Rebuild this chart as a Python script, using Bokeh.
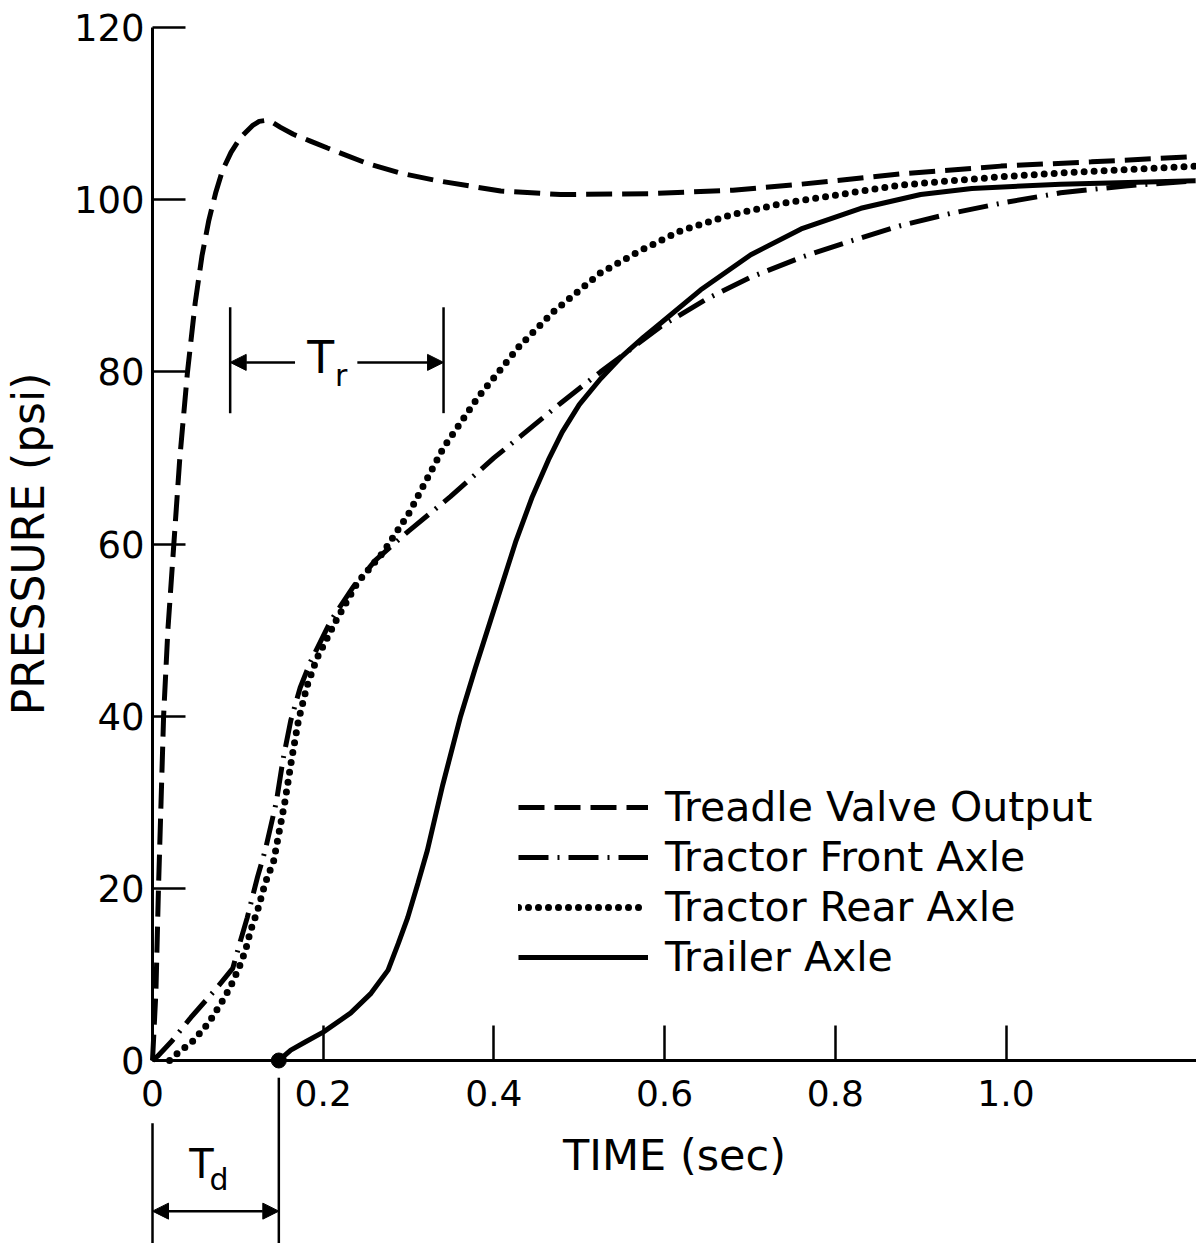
from bokeh.plotting import figure
from bokeh.models import (Range1d, LinearAxis, FixedTicker, Legend, LegendItem,
                          Arrow, NormalHead)
from bokeh.core.properties import value
from bokeh.embed import file_html
from bokeh.resources import INLINE

FONT = "DejaVu Sans"

# ---------------- data ----------------
treadle_t = [0, 0.004, 0.007, 0.010, 0.013, 0.018, 0.025, 0.032, 0.041, 0.050, 0.058,
             0.066, 0.074, 0.082, 0.092, 0.103, 0.117, 0.125, 0.132, 0.140, 0.150,
             0.165, 0.185, 0.205, 0.252, 0.290, 0.334, 0.408, 0.478, 0.584, 0.680,
             0.760, 0.877, 0.994, 1.100, 1.222]
treadle_p = [0, 8, 20, 30, 40, 50, 60, 70, 80, 88, 93.5,
             97.6, 100.8, 103.4, 105.5, 107.2, 108.6, 109.1, 109.2, 109.0, 108.4,
             107.6, 106.8, 106.0, 104.2, 103.1, 102.2, 101.0, 100.6, 100.7, 101.1,
             101.8, 103.0, 103.9, 104.4, 105.0]

front_t = [0, 0.006, 0.023, 0.045, 0.076, 0.094, 0.103, 0.111, 0.123, 0.132, 0.145,
           0.153, 0.162, 0.173, 0.185, 0.209, 0.235, 0.261, 0.30, 0.349, 0.40, 0.431,
           0.48, 0.525, 0.596, 0.65, 0.701, 0.76, 0.818, 0.877, 0.935, 1.0, 1.064,
           1.14, 1.222]
front_p = [0, 0.5, 2.3, 5.0, 8.5, 10.7, 13.9, 16.6, 21.3, 24.4, 30,
           35, 39.5, 43.3, 46.3, 51.1, 55, 58.1, 61.5, 65.5, 70, 72.5,
           76.5, 80, 85.3, 88.5, 91, 93.3, 95.2, 97, 98.4, 99.7, 100.8,
           101.6, 102.2]

rear_t = [0.020, 0.029, 0.048, 0.066, 0.080, 0.091, 0.101, 0.109, 0.115, 0.123, 0.132,
          0.142, 0.155, 0.163, 0.171, 0.181, 0.193, 0.215, 0.24, 0.27, 0.30, 0.341,
          0.381, 0.43, 0.47, 0.525, 0.57, 0.619, 0.68, 0.74, 0.818, 0.877, 0.935,
          1.0, 1.064, 1.14, 1.222]
rear_p = [0, 0.8, 2.3, 4.4, 6.6, 8.5, 10.7, 12.8, 15.1, 17.4, 20.6,
          23.2, 30, 35, 39.5, 43.5, 46.8, 51.1, 55.5, 59, 63.5, 71.2,
          77, 83, 87, 91.5, 94, 96.4, 98.3, 99.6, 100.8, 101.7, 102.2,
          102.7, 103.1, 103.5, 103.9]

trailer_t = [0.148, 0.162, 0.18, 0.200, 0.232, 0.256, 0.276, 0.288, 0.299, 0.311, 0.322,
             0.34, 0.361, 0.378, 0.396, 0.426, 0.445, 0.464, 0.48, 0.50, 0.525, 0.55,
             0.575, 0.596, 0.642, 0.701, 0.76, 0.83, 0.9, 0.96, 1.064, 1.222]
trailer_p = [0, 1.2, 2.2, 3.3, 5.5, 7.8, 10.5, 13.6, 16.6, 20.6, 24.4,
             32, 40, 45.5, 51.1, 60.4, 65.5, 69.8, 73.0, 76.2, 79.2, 81.8,
             84, 85.7, 89.5, 93.6, 96.6, 99, 100.6, 101.3, 101.8, 102.2]

series_names = ["Treadle Valve Output", "Tractor Front Axle",
                "Tractor Rear Axle", "Trailer Axle"]

x_tick_vals = [0, 0.2, 0.4, 0.6, 0.8, 1.0]
x_tick_labels = ["0", "0.2", "0.4", "0.6", "0.8", "1.0"]
y_tick_vals = [0, 20, 40, 60, 80, 100, 120]

# annotation values (time / pressure)
tr_bounds = [0.091, 0.341]
tr_bar_p = [75.2, 87.5]
tr_arrow_p = 81.1
tr_text_t = [0.197, 0.221]
td_bounds = [0.0, 0.148]
td_top_p = [-7.3, -2.0]
td_arrow_p = -17.5
td_text_t = [0.0575, 0.078]

X0, X1 = -0.1781, 1.2232
Y0, Y1 = -21.26, 123.14

p = figure(width=1196, height=1243, output_backend="svg", toolbar_location=None,
           x_range=Range1d(X0, X1), y_range=Range1d(Y0, Y1),
           x_axis_location=None, y_axis_location=None,
           min_border=0, min_border_left=0, min_border_right=0,
           min_border_top=0, min_border_bottom=0)
p.outline_line_color = None
p.grid.visible = False
p.background_fill_color = "white"

# axes
xa = LinearAxis(fixed_location=0, bounds=(0, X1),
                ticker=FixedTicker(ticks=x_tick_vals),
                major_label_overrides=dict(zip(x_tick_vals, x_tick_labels)),
                axis_label="TIME (sec)")
ya = LinearAxis(fixed_location=0, bounds=(0, 120),
                ticker=FixedTicker(ticks=y_tick_vals),
                axis_label="PRESSURE (psi)")
for ax in (xa, ya):
    ax.axis_line_width = 3
    ax.axis_line_color = "black"
    ax.major_tick_line_width = 2.5
    ax.major_tick_line_color = "black"
    ax.major_tick_out = 0
    ax.minor_tick_line_color = None
    ax.major_label_text_font = FONT
    ax.major_label_text_color = "black"
    ax.axis_label_text_font = FONT
    ax.axis_label_text_font_style = "normal"
    ax.axis_label_text_color = "black"
xa.major_tick_in = 35
xa.major_label_standoff = 20
xa.major_label_text_font_size = "36px"
xa.axis_label_text_font_size = "43px"
xa.axis_label_standoff = 20
ya.major_tick_in = 33
ya.major_label_standoff = 8
ya.major_label_text_font_size = "37px"
ya.axis_label_text_font_size = "44px"
ya.axis_label_standoff = 17
p.add_layout(xa, "below")
p.add_layout(ya, "left")

LW = 5
r1 = p.line(treadle_t, treadle_p, line_width=LW, color="black", line_dash="26 10")
r2 = p.line(front_t, front_p, line_width=LW, color="black", line_dash="30 9 2 9")
r3 = p.line(rear_t, rear_p, line_width=7, color="black", line_dash="0 10", line_cap="round")
r4 = p.line(trailer_t, trailer_p, line_width=LW, color="black")
p.scatter([trailer_t[0]], [trailer_p[0]], size=15, color="black")

# Tr annotation
p.segment(x0=tr_bounds, y0=[tr_bar_p[0]] * 2, x1=tr_bounds, y1=[tr_bar_p[1]] * 2,
          line_width=2.5, color="black")
p.add_layout(Arrow(end=NormalHead(size=16, fill_color="black", line_color="black"),
                   x_start=0.167, y_start=tr_arrow_p, x_end=tr_bounds[0], y_end=tr_arrow_p,
                   line_width=2.5))
p.add_layout(Arrow(end=NormalHead(size=16, fill_color="black", line_color="black"),
                   x_start=0.240, y_start=tr_arrow_p, x_end=tr_bounds[1], y_end=tr_arrow_p,
                   line_width=2.5))
p.text(x=[tr_text_t[0]], y=[tr_arrow_p + 0.6], text=["T"], text_font=value(FONT),
       text_font_size="44px", text_align="center", text_baseline="middle")
p.text(x=[tr_text_t[1]], y=[tr_arrow_p - 1.5], text=["r"], text_font=value(FONT),
       text_font_size="30px", text_align="center", text_baseline="middle")

# Td annotation
p.segment(x0=td_bounds, y0=td_top_p, x1=td_bounds, y1=[Y0, Y0],
          line_width=2.5, color="black")
p.add_layout(Arrow(start=NormalHead(size=16, fill_color="black", line_color="black"),
                   end=NormalHead(size=16, fill_color="black", line_color="black"),
                   x_start=td_bounds[0], y_start=td_arrow_p, x_end=td_bounds[1],
                   y_end=td_arrow_p, line_width=2.5))
p.text(x=[td_text_t[0]], y=[-12.0], text=["T"], text_font=value(FONT),
       text_font_size="40px", text_align="center", text_baseline="middle")
p.text(x=[td_text_t[1]], y=[-13.8], text=["d"], text_font=value(FONT),
       text_font_size="30px", text_align="center", text_baseline="middle")

legend = Legend(items=[LegendItem(label=n, renderers=[r]) for n, r in
                       zip(series_names, [r1, r2, r3, r4])],
                location=(518, 262))
legend.label_text_font = FONT
legend.label_text_font_size = "41px"
legend.label_text_color = "black"
legend.glyph_width = 130
legend.glyph_height = 48
legend.label_height = 48
legend.spacing = 2
legend.padding = 0
legend.margin = 0
legend.label_standoff = 17
legend.border_line_color = None
legend.background_fill_alpha = 0
p.add_layout(legend)

open("out.html", "w").write(file_html(p, INLINE))
